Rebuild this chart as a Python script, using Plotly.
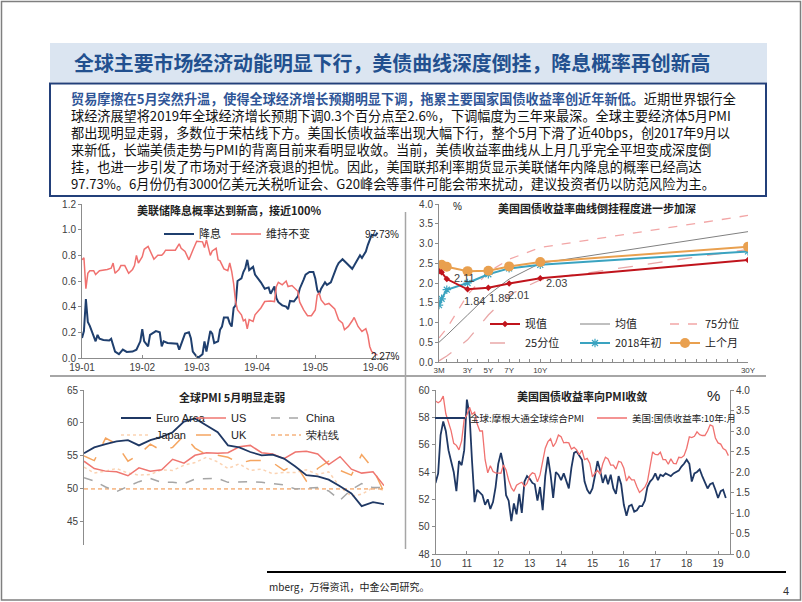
import pandas as pd
import plotly.graph_objects as go

W, H = 802, 602


def fx(p):
    # pixel x -> paper fraction
    return p / W


def fy(p):
    # pixel y (from top) -> paper fraction
    return 1 - p / H


CJK = "Noto Sans CJK SC"
NUM = "Arial"
GRAY = "#8c8c8c"
NAVY = "#1f3864"
SALMON = "#f0716f"

# ---------------- top left: rate cut probability ----------------
cut_dates = ["2019-01-01", "2019-01-02", "2019-01-03", "2019-01-04", "2019-01-05", "2019-01-06",
             "2019-01-07", "2019-01-08", "2019-01-09", "2019-01-10", "2019-01-12", "2019-01-15",
             "2019-01-16", "2019-01-18", "2019-01-20", "2019-01-22", "2019-01-24", "2019-01-27",
             "2019-01-29", "2019-01-31", "2019-02-01", "2019-02-02", "2019-02-04", "2019-02-05",
             "2019-02-08", "2019-02-10", "2019-02-11", "2019-02-12", "2019-02-14", "2019-02-17",
             "2019-02-19", "2019-02-20", "2019-02-22", "2019-02-23", "2019-02-25", "2019-02-26",
             "2019-02-27", "2019-03-01", "2019-03-02", "2019-03-04", "2019-03-05", "2019-03-06",
             "2019-03-08", "2019-03-09", "2019-03-10", "2019-03-12", "2019-03-13", "2019-03-14",
             "2019-03-15", "2019-03-17", "2019-03-18", "2019-03-19", "2019-03-20", "2019-03-21",
             "2019-03-22", "2019-03-24", "2019-03-25", "2019-03-26", "2019-03-27", "2019-03-28",
             "2019-03-30", "2019-03-31", "2019-04-03", "2019-04-05", "2019-04-07", "2019-04-08",
             "2019-04-10", "2019-04-11", "2019-04-12", "2019-04-14", "2019-04-16", "2019-04-17",
             "2019-04-18", "2019-04-20", "2019-04-22", "2019-04-23", "2019-04-25", "2019-04-26",
             "2019-04-28", "2019-04-30", "2019-05-01", "2019-05-02", "2019-05-03", "2019-05-04",
             "2019-05-06", "2019-05-07", "2019-05-09", "2019-05-10", "2019-05-12", "2019-05-13",
             "2019-05-15", "2019-05-17", "2019-05-20", "2019-05-21", "2019-05-22", "2019-05-24",
             "2019-05-25", "2019-05-27", "2019-05-28", "2019-05-29", "2019-05-30", "2019-06-01",
             "2019-06-02"]
cut_prob = [0.155, 0.21, 0.46, 0.28, 0.25, 0.21, 0.155, 0.13, 0.18, 0.15, 0.14, 0.137,
            0.15, 0.05, 0.03, 0.065, 0.047, 0.05, 0.065, 0.13, 0.225, 0.13, 0.09, 0.18,
            0.21, 0.20, 0.09, 0.13, 0.117, 0.117, 0.112, 0.065, 0.155, 0.19, 0.20, 0.155,
            0.05, 0.01, 0.005, 0.03, 0.13, 0.05, 0.21, 0.19, 0.117, 0.13, 0.22, 0.245,
            0.316, 0.316, 0.27, 0.245, 0.39, 0.41, 0.60, 0.62, 0.67, 0.70, 0.765, 0.685,
            0.71, 0.65, 0.59, 0.54, 0.55, 0.50, 0.557, 0.466, 0.435, 0.41, 0.40, 0.38,
            0.445, 0.44, 0.48, 0.54, 0.61, 0.65, 0.67, 0.67, 0.62, 0.53, 0.50, 0.54,
            0.59, 0.57, 0.59, 0.635, 0.71, 0.74, 0.77, 0.74, 0.695, 0.72, 0.75, 0.80,
            0.78, 0.83, 0.88, 0.93, 0.96, 0.955, 0.9773]

hold_dates = ["2019-01-01", "2019-01-02", "2019-01-03", "2019-01-04", "2019-01-05", "2019-01-07",
              "2019-01-08", "2019-01-10", "2019-01-14", "2019-01-16", "2019-01-17", "2019-01-18",
              "2019-01-20", "2019-01-21", "2019-01-23", "2019-01-25", "2019-01-27", "2019-01-28",
              "2019-01-29", "2019-01-30", "2019-02-01", "2019-02-02", "2019-02-04", "2019-02-05",
              "2019-02-07", "2019-02-09", "2019-02-11", "2019-02-12", "2019-02-13", "2019-02-16",
              "2019-02-18", "2019-02-20", "2019-02-21", "2019-02-23", "2019-02-25", "2019-02-27",
              "2019-03-01", "2019-03-04", "2019-03-05", "2019-03-06", "2019-03-08", "2019-03-09",
              "2019-03-11", "2019-03-12", "2019-03-13", "2019-03-15", "2019-03-17", "2019-03-18",
              "2019-03-19", "2019-03-20", "2019-03-21", "2019-03-22", "2019-03-24", "2019-03-25",
              "2019-03-26", "2019-03-27", "2019-03-28", "2019-03-30", "2019-03-31", "2019-04-03",
              "2019-04-05", "2019-04-08", "2019-04-10", "2019-04-11", "2019-04-12", "2019-04-14",
              "2019-04-16", "2019-04-17", "2019-04-19", "2019-04-22", "2019-04-23", "2019-04-25",
              "2019-04-27", "2019-04-29", "2019-05-01", "2019-05-02", "2019-05-03", "2019-05-04",
              "2019-05-06", "2019-05-08", "2019-05-10", "2019-05-11", "2019-05-13", "2019-05-15",
              "2019-05-16", "2019-05-18", "2019-05-20", "2019-05-21", "2019-05-23", "2019-05-25",
              "2019-05-27", "2019-05-28", "2019-05-29", "2019-05-30", "2019-06-01", "2019-06-02"]
hold_prob = [0.765, 0.78, 0.54, 0.66, 0.68, 0.68, 0.65, 0.68, 0.69, 0.70, 0.74, 0.66,
             0.69, 0.72, 0.72, 0.66, 0.69, 0.72, 0.80, 0.74, 0.79, 0.847, 0.87, 0.84,
             0.77, 0.80, 0.80, 0.816, 0.84, 0.84, 0.84, 0.89, 0.855, 0.83, 0.765, 0.84,
             0.91, 0.905, 0.86, 0.92, 0.80, 0.834, 0.855, 0.765, 0.757, 0.694, 0.68, 0.74,
             0.674, 0.58, 0.44, 0.375, 0.337, 0.29, 0.30, 0.228, 0.30, 0.285, 0.337, 0.39,
             0.44, 0.445, 0.44, 0.557, 0.59, 0.57, 0.60, 0.557, 0.565, 0.52, 0.435, 0.375,
             0.33, 0.33, 0.375, 0.49, 0.505, 0.453, 0.415, 0.425, 0.40, 0.383, 0.298, 0.272,
             0.22, 0.246, 0.29, 0.316, 0.246, 0.207, 0.228, 0.18, 0.09, 0.05, 0.03, 0.0227]

# ---------------- top right: treasury curve ----------------
maturity = [0.25, 0.5, 1, 3, 5, 7, 10, 30]
curve_now = [2.30, 2.27, 2.10, 1.84, 1.88, 1.99, 2.12, 2.58]
curve_mean = [0.50, 0.56, 0.68, 1.19, 1.70, 2.10, 2.50, 3.30]
curve_p75 = [0.61, 0.70, 0.85, 1.70, 2.28, 2.60, 2.90, 3.71]
curve_p25 = [0.03, 0.07, 0.15, 0.56, 1.19, 1.70, 2.08, 2.85]
curve_2018 = [1.44, 1.60, 1.83, 2.00, 2.22, 2.37, 2.46, 2.80]
curve_last = [2.43, 2.46, 2.41, 2.30, 2.31, 2.42, 2.53, 2.92]
mat_ticks = [0.25, 3, 5, 7, 10, 30]
mat_labels = ["3M", "3Y", "5Y", "7Y", "10Y", "30Y"]

# ---------------- bottom left: PMI ----------------
pmi_months = pd.date_range("2017-02-01", "2019-05-01", freq="MS")
pmi_euro = [55.4, 56.3, 56.8, 57.2, 57.4, 56.6, 57.4, 57.9, 58.6, 60.2, 60.7, 59.7, 58.6, 56.6,
            56.3, 55.6, 55.1, 55.2, 54.6, 53.4, 52.1, 51.9, 51.4, 50.4, 49.3, 47.4, 48.0, 47.7]
pmi_us = [54.2, 53.1, 52.7, 52.6, 52.0, 53.2, 52.7, 52.9, 54.5, 53.9, 55.1, 55.5, 55.4, 55.5,
          56.4, 56.6, 55.5, 55.3, 54.6, 55.6, 55.7, 55.3, 53.7, 54.9, 53.0, 52.4, 52.6, 50.5]
pmi_china = [51.7, 51.2, 50.3, 49.6, 50.4, 51.1, 51.6, 51.0, 51.0, 50.8, 51.5, 51.5, 51.6, 51.0,
             51.1, 51.1, 51.0, 50.8, 50.6, 50.0, 50.1, 50.2, 49.7, 48.3, 49.9, 50.8, 50.2, 50.2]
pmi_japan = [53.3, 52.4, 52.7, 53.1, 52.4, 52.1, 52.2, 52.9, 52.8, 53.6, 54.0, 54.8, 54.1, 53.1,
             53.8, 52.8, 53.0, 52.3, 52.5, 52.5, 52.9, 52.2, 52.6, 50.3, 48.9, 49.2, 50.2, 49.8]
pmi_uk = [55.0, 54.3, 57.7, 56.8, 54.2, 55.2, 56.8, 55.8, 56.3, 58.1, 56.2, 55.2, 55.1, 54.8,
          53.9, 54.3, 54.3, 54.0, 52.8, 53.8, 51.2, 53.1, 54.2, 52.8, 52.1, 55.2, 53.1, 49.5]
boom_bust = 50
pmi_tick_months = ["2018-08-01", "2018-11-01", "2019-02-01", "2019-05-01"]
pmi_tick_labels = ["18-08", "18-11", "19-02", "19-05"]

# ---------------- bottom right: global PMI vs UST 10Y ----------------
global_pmi = [53.2, 53.9, 56.7, 57.7, 57.0, 55.6, 54.8, 54.0, 52.6, 54.8, 54.5, 55.6,
              59.3, 58.2, 54.9, 51.8, 52.7, 52.5, 52.3, 51.6, 52.0, 51.3, 51.8, 52.9,
              54.6, 55.4, 54.5, 52.3, 51.9, 50.4, 51.7, 50.9, 52.4, 51.0, 53.3, 53.7,
              53.5, 53.2, 53.1, 51.9, 52.9, 51.2, 53.7, 55.1, 53.8, 52.1, 54.0, 53.8,
              53.4, 53.9, 53.3, 52.8, 54.3, 55.4, 55.5, 55.2, 54.9, 53.3, 52.7, 52.4,
              52.8, 53.8, 54.8, 54.1, 53.2, 53.8, 53.1, 53.8, 52.8, 52.4, 53.7, 53.1,
              51.6, 50.8, 51.5, 51.6, 51.1, 51.2, 51.5, 51.5, 51.9, 52.9, 53.3, 53.5,
              53.9, 53.4, 53.8, 53.7, 53.9, 53.8, 53.7, 53.9, 54.0, 54.1, 54.4, 54.6,
              54.9, 54.6, 53.3, 53.9, 54.0, 54.2, 53.7, 53.3, 52.8, 53.1, 53.2, 52.7,
              52.1, 52.6, 52.7, 52.1]
ust10y = [3.73, 3.69, 3.73, 3.85, 3.42, 3.20, 3.01, 2.70, 2.65, 2.54, 2.76, 3.29,
          3.39, 3.58, 3.41, 3.46, 3.17, 3.00, 3.00, 2.30, 1.98, 2.15, 2.01, 1.98,
          1.97, 1.97, 2.17, 2.05, 1.80, 1.62, 1.53, 1.68, 1.72, 1.75, 1.65, 1.72,
          1.91, 1.98, 1.96, 1.76, 1.93, 2.30, 2.58, 2.74, 2.81, 2.62, 2.72, 2.90,
          2.86, 2.71, 2.72, 2.71, 2.56, 2.60, 2.54, 2.42, 2.53, 2.30, 2.33, 2.21,
          1.88, 1.98, 2.04, 1.94, 2.20, 2.36, 2.32, 2.17, 2.17, 2.07, 2.26, 2.24,
          2.09, 1.78, 1.89, 1.81, 1.81, 1.64, 1.50, 1.56, 1.63, 1.76, 2.14, 2.49,
          2.43, 2.42, 2.48, 2.30, 2.30, 2.19, 2.32, 2.21, 2.20, 2.36, 2.35, 2.40,
          2.58, 2.86, 2.84, 2.87, 2.98, 2.91, 2.89, 2.89, 3.00, 3.15, 3.12, 2.83,
          2.71, 2.68, 2.57, 2.53, 2.40]
pmi_dates = pd.date_range("2010-01-01", periods=len(global_pmi), freq="MS")
ust_dates = pd.date_range("2010-01-01", periods=len(ust10y), freq="MS")

fig = go.Figure()

# top left
fig.add_trace(go.Scatter(x=cut_dates, y=cut_prob, name="降息", mode="lines",
                         line=dict(color="#1f3f6e", width=2), xaxis="x", yaxis="y", legend="legend"))
fig.add_trace(go.Scatter(x=hold_dates, y=hold_prob, name="维持不变", mode="lines",
                         line=dict(color=SALMON, width=1.5), xaxis="x", yaxis="y", legend="legend"))

# top right
fig.add_trace(go.Scatter(x=maturity, y=curve_mean, name="均值", mode="lines",
                         line=dict(color="#808080", width=1), xaxis="x2", yaxis="y2",
                         legend="legend2", legendrank=2))
fig.add_trace(go.Scatter(x=maturity, y=curve_p75, name="75分位", mode="lines",
                         line=dict(color="#f2a6a6", width=1.3, dash="dash"), xaxis="x2", yaxis="y2",
                         legend="legend2", legendrank=3))
fig.add_trace(go.Scatter(x=maturity, y=curve_p25, name="25分位", mode="lines",
                         line=dict(color="#e9a7a7", width=1.3, dash="longdash"), xaxis="x2", yaxis="y2",
                         legend="legend3", legendrank=1))
fig.add_trace(go.Scatter(x=maturity, y=curve_2018, name="2018年初", mode="lines+markers",
                         line=dict(color="#3aa3c0", width=2),
                         marker=dict(symbol="asterisk-open", size=7, color="#3aa3c0", line=dict(width=1.2, color="#3aa3c0")),
                         xaxis="x2", yaxis="y2", legend="legend3", legendrank=2))
fig.add_trace(go.Scatter(x=maturity, y=curve_last, name="上个月", mode="lines+markers",
                         line=dict(color="#e9a04f", width=2),
                         marker=dict(symbol="circle", size=10, color="#e9a04f"),
                         xaxis="x2", yaxis="y2", legend="legend3", legendrank=3))
fig.add_trace(go.Scatter(x=maturity, y=curve_now, name="现值", mode="lines+markers",
                         line=dict(color="#c0141c", width=2),
                         marker=dict(symbol="diamond", size=5, color="#c0141c"),
                         xaxis="x2", yaxis="y2", legend="legend2", legendrank=1))

# bottom left
fig.add_trace(go.Scatter(x=pmi_months, y=pmi_japan, name="Japan", mode="lines",
                         line=dict(color="#fbd3b3", width=1.5, dash="dot"), xaxis="x3", yaxis="y3",
                         legend="legend5", legendrank=1))
fig.add_trace(go.Scatter(x=pmi_months, y=pmi_uk, name="UK", mode="lines",
                         line=dict(color="#f5a560", width=1.5, dash="longdash"), xaxis="x3", yaxis="y3",
                         legend="legend5", legendrank=2))
fig.add_trace(go.Scatter(x=[pmi_months[0], pmi_months[-1]], y=[boom_bust, boom_bust], name="荣枯线",
                         mode="lines", line=dict(color="#f08c3c", width=1, dash="4px,3px"),
                         xaxis="x3", yaxis="y3", legend="legend5", legendrank=3))
fig.add_trace(go.Scatter(x=pmi_months, y=pmi_china, name="China", mode="lines",
                         line=dict(color="#a6a6a6", width=1.5, dash="dash"), xaxis="x3", yaxis="y3",
                         legend="legend4", legendrank=3))
fig.add_trace(go.Scatter(x=pmi_months, y=pmi_us, name="US", mode="lines",
                         line=dict(color="#ef7670", width=1.5), xaxis="x3", yaxis="y3",
                         legend="legend4", legendrank=2))
fig.add_trace(go.Scatter(x=pmi_months, y=pmi_euro, name="Euro Area", mode="lines",
                         line=dict(color=NAVY, width=1.8), xaxis="x3", yaxis="y3",
                         legend="legend4", legendrank=1))

# bottom right
fig.add_trace(go.Scatter(x=ust_dates, y=ust10y, name="美国:国债收益率:10年:月", mode="lines",
                         line=dict(color=SALMON, width=1.3), xaxis="x4", yaxis="y5",
                         legend="legend6", legendrank=2))
fig.add_trace(go.Scatter(x=pmi_dates, y=global_pmi, name="全球:摩根大通全球综合PMI", mode="lines",
                         line=dict(color=NAVY, width=1.8), xaxis="x4", yaxis="y4",
                         legend="legend6", legendrank=1))

tick_font = dict(family=NUM, size=10, color="#404040")
axis_common = dict(showline=True, linecolor=GRAY, linewidth=1, showgrid=False, zeroline=False,
                   tickcolor=GRAY, tickfont=tick_font, fixedrange=True)


def legend_at(x_px, y_px, entry, size=11, family=CJK):
    # entry = width of the text part; each item also takes ~40px for its symbol
    return dict(x=fx(x_px), y=fy(y_px), xanchor="left", yanchor="middle", orientation="h",
                bgcolor="rgba(0,0,0,0)", entrywidth=entry, entrywidthmode="pixels",
                font=dict(family=family, size=size, color="#222"), traceorder="normal",
                itemwidth=30, tracegroupgap=0)


fig.update_layout(
    width=W, height=H, margin=dict(l=0, r=0, t=0, b=0, autoexpand=False),
    paper_bgcolor="white", plot_bgcolor="rgba(0,0,0,0)",
    font=dict(family=CJK, size=11, color="#222"),
    showlegend=True,
    xaxis=dict(axis_common, domain=[fx(82), fx(395)], anchor="y", type="date",
               range=["2019-01-01", "2019-06-11"],
               tickvals=["2019-01-01", "2019-02-01", "2019-03-01", "2019-04-01", "2019-05-01", "2019-06-01"],
               ticktext=["19-01", "19-02", "19-03", "19-04", "19-05", "19-06"],
               ticks="inside", ticklen=3),
    yaxis=dict(axis_common, domain=[fy(358), fy(204)], anchor="x", range=[0, 1.2], dtick=0.2,
               tickformat=".1f", ticks="outside", ticklen=3),
    xaxis2=dict(axis_common, domain=[fx(439), fx(748)], anchor="y2", range=[0.25, 30],
                tickvals=[0.25] + list(range(1, 31)),
                ticktext=[mat_labels[mat_ticks.index(v)] if v in mat_ticks else "" for v in [0.25] + list(range(1, 31))],
                ticks="inside", ticklen=3, tickfont=dict(family=NUM, size=8, color="#404040")),
    yaxis2=dict(axis_common, domain=[fy(362), fy(204)], anchor="x2", range=[0, 4], dtick=0.5,
                tickformat=".1f", ticks="outside", ticklen=3),
    xaxis3=dict(domain=[fx(84), fx(384)], anchor="y3", type="date", visible=False,
                range=["2017-02-01", "2019-05-01"], fixedrange=True),
    yaxis3=dict(axis_common, domain=[fy(545), fy(390)], anchor="x3", range=[41.5, 65], dtick=5,
                ticks="outside", ticklen=3),
    xaxis6=dict(axis_common, domain=[fx(268), fx(385)], anchor="y6", type="date",
                range=["2018-06-18", "2019-05-03"], tickvals=pmi_tick_months, ticktext=pmi_tick_labels,
                ticks="inside", ticklen=5),
    yaxis6=dict(domain=[fy(556), fy(554)], anchor="x6", visible=False, range=[0, 1], fixedrange=True),
    xaxis4=dict(axis_common, domain=[fx(435.5), fx(730)], anchor="y4", type="date",
                range=["2010-01-01", "2019-05-20"], dtick="M12", tick0="2010-01-01", tickformat="%y",
                ticks="inside", ticklen=3),
    yaxis4=dict(axis_common, domain=[fy(554), fy(390)], anchor="x4", range=[48, 60], dtick=2,
                ticks="outside", ticklen=3),
    yaxis5=dict(axis_common, domain=[fy(554), fy(390)], anchor="x4", overlaying="y4", side="right",
                range=[0, 4], dtick=0.5, tickformat=".1f", ticks="outside", ticklen=3),
    legend=legend_at(159, 234, 0),
    legend2=legend_at(485, 324, 45),
    legend3=legend_at(485, 343, 45),
    legend4=legend_at(116, 418, 30, family=NUM),
    legend5=legend_at(116, 435, 30, family=NUM),
    legend6=legend_at(430, 418, 117, size=9.5),
)

shapes = [
    # page border
    dict(type="rect", xref="paper", yref="paper", x0=fx(1.5), x1=fx(800.5), y0=fy(600), y1=fy(1.5),
         line=dict(color="#7f7f7f", width=1.5)),
    # title band
    dict(type="rect", xref="paper", yref="paper", x0=fx(50), x1=fx(767), y0=fy(82), y1=fy(43),
         fillcolor="#dbe5f1", line=dict(width=0), layer="below"),
    # summary box
    dict(type="rect", xref="paper", yref="paper", x0=fx(50), x1=fx(766), y0=fy(196), y1=fy(83.5),
         fillcolor="white", line=dict(color="#23407a", width=2), layer="below"),
    # separators
    dict(type="line", xref="paper", yref="paper", x0=fx(50), x1=fx(766), y0=fy(376), y1=fy(376),
         line=dict(color="#a6a6a6", width=2)),
    dict(type="line", xref="paper", yref="paper", x0=fx(405.5), x1=fx(405.5), y0=fy(212), y1=fy(549),
         line=dict(color="#a6a6a6", width=1.5)),
    dict(type="line", xref="paper", yref="paper", x0=fx(267), x1=fx(786), y0=fy(572), y1=fy(572),
         line=dict(color="#000000", width=2)),
]
fig.update_layout(shapes=shapes)

body_lines = [
    "<b><span style='color:#2f5597'>贸易摩擦在5月突然升温，使得全球经济增长预期明显下调，拖累主要国家国债收益率创近年新低。</span></b>近期世界银行全",
    "球经济展望将2019年全球经济增长预期下调0.3个百分点至2.6%，下调幅度为三年来最深。全球主要经济体5月PMI",
    "都出现明显走弱，多数位于荣枯线下方。美国长债收益率出现大幅下行，整个5月下滑了近40bps，创2017年9月以",
    "来新低，长端美债走势与PMI的背离目前来看明显收敛。当前，美债收益率曲线从上月几乎完全平坦变成深度倒",
    "挂，也进一步引发了市场对于经济衰退的担忧。因此，美国联邦利率期货显示美联储年内降息的概率已经高达",
    "97.73%。6月份仍有3000亿美元关税听证会、G20峰会等事件可能会带来扰动，建议投资者仍以防范风险为主。",
]


def note(text, x_px, y_px, size=11, anchor="center", color="#222", family=CJK):
    return dict(text=text, x=fx(x_px), y=fy(y_px), xref="paper", yref="paper", showarrow=False,
                xanchor=anchor, yanchor="middle", font=dict(family=family, size=size, color=color))


annotations = [
    note("<b>全球主要市场经济动能明显下行，美债曲线深度倒挂，降息概率再创新高</b>", 72, 63, size=19.9,
         anchor="left", color="#22508f"),
    dict(note("<br>".join(body_lines), 70, 141, size=13.15, anchor="left", color="#111"),
         align="left", borderpad=0),
]

annotations += [
    note("<b>美联储降息概率达到新高，接近100%</b>", 229, 210),
    note("97.73%", 401, 234, size=10, anchor="right", family=NUM),
    note("2.27%", 401, 356, size=10, anchor="right", family=NUM),
    note("<b>美国国债收益率曲线倒挂程度进一步加深</b>", 597, 208),
    note("%", 457, 206, size=10, family=NUM),
    note("<b>全球PMI 5月明显走弱</b>", 232, 397),
    note("<b>美国国债收益率向PMI收敛</b>", 582, 396),
    note("%", 713, 395, size=15, family=NUM),
    note("mberg，万得资讯，中金公司研究。", 267, 586, size=10, anchor="left"),
    note("4", 786, 591, size=11, family=NUM, color="#333"),
]

# data labels on the yield curve
label_style = dict(xref="x2", yref="y2", showarrow=False, font=dict(family=NUM, size=11, color="#404040"))
for txt, xv, yv in [("2.11", 2.66, 2.13), ("1.84", 3.71, 1.54), ("1.89", 6.1, 1.62),
                    ("2.01", 7.95, 1.70), ("2.03", 11.6, 2.0)]:
    annotations.append(dict(label_style, text=txt, x=xv, y=yv))

fig.update_layout(annotations=annotations)

fig.write_html("out.html", config={"displayModeBar": False},
               post_script="document.body.style.margin='0px';")
